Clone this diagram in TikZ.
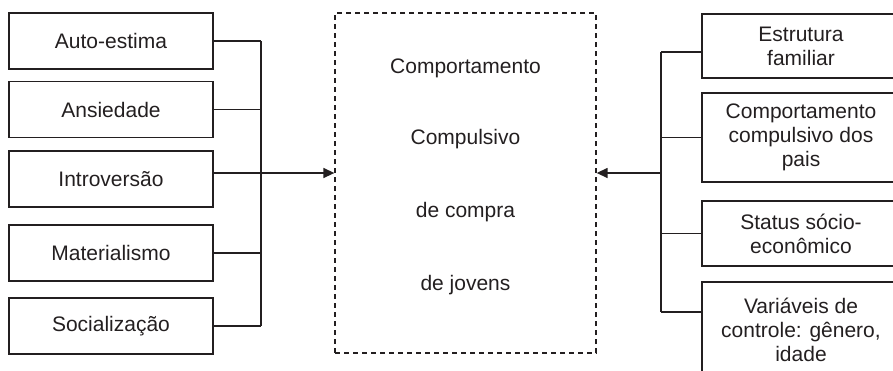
\documentclass[tikz,border=0pt]{standalone}
\usepackage{fontspec}
\setmainfont{Liberation Sans}
\usetikzlibrary{arrows.meta}
\definecolor{ink}{HTML}{231F20}
\begin{document}
\begin{tikzpicture}[x=1pt,y=-1pt,
  every node/.style={font=\fontsize{21}{24}\selectfont, text=ink},
  lbox/.style={draw=ink, line width=1.5pt, minimum width=204pt, minimum height=56pt, inner sep=0pt},
  rbox/.style={draw=ink, line width=1.5pt, minimum width=198pt, inner sep=0pt, align=center},
  conn/.style={draw=ink, line width=1.4pt},
  arr/.style={conn, -{Triangle[length=11pt,width=10pt]}},
  cbox/.style={draw=ink, line width=1.3pt, dash pattern=on 5pt off 4pt, minimum width=261pt, minimum height=340pt, inner sep=0pt}
]
\clip (0,0) rectangle (893,370);
% left boxes
\node[lbox] (l1) at (111,41) {Auto-estima};
\node[lbox] (l2) at (111,109.5) {Ansiedade};
\node[lbox] (l3) at (111,179) {Introversão};
\node[lbox] (l4) at (111,253) {Materialismo};
\node[lbox] (l5) at (111,326) {Socialização};
% centre box
\node[cbox] (c) at (465.5,183) {};
\node (t1) at (465.5,68) {Comportamento};
\node (t2) at (465.5,139) {Compulsivo};
\node (t3) at (465.5,212) {de compra};
\node (t4) at (465.5,285) {de jovens};
% right boxes
\node[rbox, minimum height=64pt] (r1) at (801,46) {Estrutura\\familiar};
\node[rbox, minimum height=89pt] (r2) at (801,137.5) {Comportamento\\compulsivo dos\\pais};
\node[rbox, minimum height=65pt] (r3) at (801,233.5) {Status sócio-\\econômico};
\node[rbox, minimum height=96pt] (r4) at (801,330) {Variáveis de\\controle: gênero,\\idade};
% left bus
\coordinate (lb1) at (261,41);
\coordinate (lb5) at (261,326);
\coordinate (la) at (261,173);
\draw[conn] (l1.east) -- (lb1 |- l1.east);
\draw[conn] (l2.east) -- (lb1 |- l2.east);
\draw[conn] ([yshift=6pt]l3.east) -- (la);
\draw[conn] (l4.east) -- (lb1 |- l4.east);
\draw[conn] (l5.east) -- (lb5 |- l5.east);
\draw[conn] (lb1) -- (lb5);
\draw[arr] (la) -- (c.west |- la);
% right bus
\coordinate (rb1) at (661,52);
\coordinate (rb4) at (661,312);
\coordinate (ra) at (661,173);
\draw[conn] ([yshift=-6pt]r1.west) -- (rb1);
\draw[conn] (r2.west) -- (rb1 |- r2.west);
\draw[conn] (r3.west) -- (rb1 |- r3.west);
\draw[conn] ([yshift=18pt]r4.west) -- (rb4);
\draw[conn] (rb1) -- (rb4);
\draw[arr] (ra) -- (c.east |- ra);
\end{tikzpicture}
\end{document}
